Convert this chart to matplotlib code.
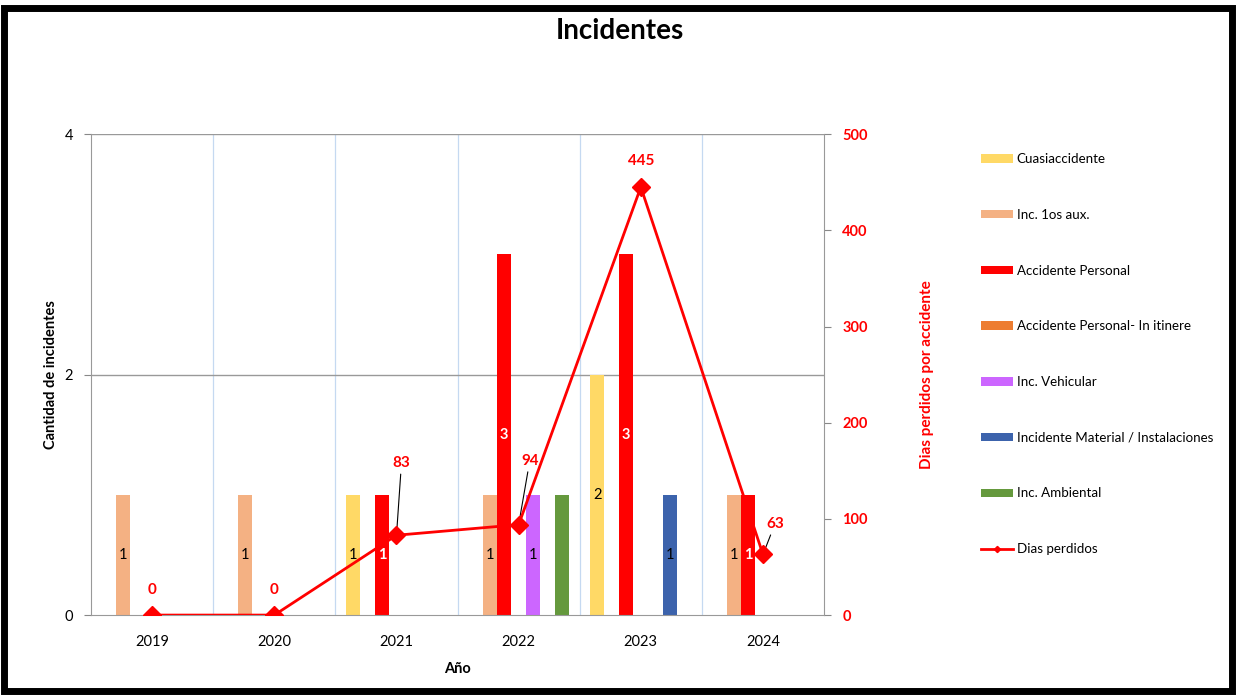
import numpy as np
import matplotlib
matplotlib.use("Agg")
import matplotlib.pyplot as plt
from matplotlib.patches import Rectangle

plt.rcParams['font.family'] = ['Lato', 'DejaVu Sans']

# datos del grafico
years = ["2019", "2020", "2021", "2022", "2023", "2024"]
series_names = ["Cuasiaccidente", "Inc. 1os aux.", "Accidente Personal",
                "Accidente Personal- In itinere", "Inc. Vehicular",
                "Incidente Material / Instalaciones", "Inc. Ambiental"]
cuasi = [0, 0, 1, 0, 2, 0]
primeros_aux = [1, 1, 0, 1, 0, 1]
acc_personal = [0, 0, 1, 3, 3, 1]
acc_itinere = [0, 0, 0, 0, 0, 0]
vehicular = [0, 0, 0, 1, 0, 0]
material = [0, 0, 0, 0, 1, 0]
ambiental = [0, 0, 0, 1, 0, 0]
dias_perdidos = [0, 0, 83, 94, 445, 63]

series_vals = [cuasi, primeros_aux, acc_personal, acc_itinere, vehicular, material, ambiental]
colors = ["#FFD966", "#F4B183", "#FF0000", "#ED7D31", "#CC66FF", "#3C63AC", "#65993D"]
label_colors = ["black", "black", "white", "black", "black", "black", None]
red = "#FF0000"

fig = plt.figure(figsize=(12.37, 6.95), dpi=100)
ax = fig.add_axes([0.0736, 0.115, 0.5926, 0.692])

x = np.arange(len(years))
step = 0.119
width = 0.115
for i, (name, vals) in enumerate(zip(series_names, series_vals)):
    pos = x + (i - 3) * step
    bars = ax.bar(pos, vals, width=width, color=colors[i], label=name, zorder=2)
    if label_colors[i] is None:
        continue
    for b, v in zip(bars, vals):
        if v > 0:
            bold = "bold" if label_colors[i] == "white" else "normal"
            ax.text(b.get_x() + b.get_width() / 2, v / 2, str(v), ha="center", va="center",
                    color=label_colors[i], fontsize=10.5, fontweight=bold, zorder=3)

ax.set_xlim(-0.5, len(years) - 0.5)
ax.set_ylim(0, 4)
ax.set_yticks([0, 2, 4])
ax.set_xticks(x)
ax.set_xticklabels(years, fontsize=10.5)
ax.tick_params(axis="x", length=0, pad=14)
ax.tick_params(axis="y", labelsize=10.5, color="#888888", length=5, pad=8)
for xv in np.arange(0.5, len(years) - 0.5, 1):
    ax.axvline(xv, color="#C5D9F1", lw=0.9, zorder=0)
for yv in [2, 4]:
    ax.axhline(yv, color="#999999", lw=1.0, zorder=0)
for s in ["top", "right"]:
    ax.spines[s].set_visible(False)
for s in ["left", "bottom"]:
    ax.spines[s].set_color("#999999")
ax.set_xlabel("Año", fontsize=10.5, fontweight="bold", labelpad=10)
ax.set_ylabel("Cantidad de incidentes", fontsize=10.5, fontweight="bold", labelpad=5)

ax2 = ax.twinx()
line, = ax2.plot(x, dias_perdidos, color=red, lw=2, marker="D", markersize=9,
                 label="Dias perdidos", zorder=5)
ax2.set_ylim(0, 500)
ax2.set_yticks(range(0, 501, 100))
ax2.tick_params(axis="y", colors=red, labelsize=10.5, length=5, pad=8)
for t in ax2.get_yticklabels():
    t.set_fontweight("bold")
ax2.tick_params(axis="y", color="#888888")
for s in ["top", "left", "bottom"]:
    ax2.spines[s].set_visible(False)
ax2.spines["right"].set_color("#999999")
ax2.set_ylabel("Dias perdidos por accidente", color=red, fontsize=11, fontweight="bold", labelpad=38)

offsets = [(0, 13), (0, 13), (3.6, 47), (8, 41), (0, 14), (8.6, 17)]
for xi, v, off in zip(x, dias_perdidos, offsets):
    if off[0] == 0:
        ax2.annotate(str(v), (xi, v), xytext=off, textcoords="offset points",
                     ha="center", va="bottom", color=red, fontsize=11, fontweight="bold")
    else:
        ax2.annotate(str(v), (xi, v), xytext=off, textcoords="offset points",
                     ha="center", va="bottom", color=red, fontsize=11, fontweight="bold",
                     arrowprops=dict(arrowstyle="-", color="black", lw=0.8, shrinkA=1, shrinkB=3))

handles, labels = ax.get_legend_handles_labels()
handles.append(line)
labels.append("Dias perdidos")
leg = fig.legend(handles, labels, loc="upper left", bbox_to_anchor=(0.783, 0.797),
                 frameon=False, fontsize=9.6, handlelength=2.45, handleheight=0.6,
                 labelspacing=3.28, handletextpad=0.25, markerscale=0.35)

fig.text(0.501, 0.955, "Incidentes", ha="center", va="center", fontsize=20, fontweight="bold")

fig.patches.append(Rectangle((0.003, 0.006), 0.993, 0.982, transform=fig.transFigure,
                             fill=False, edgecolor="black", lw=5))

fig.savefig("out.png", dpi=100)
